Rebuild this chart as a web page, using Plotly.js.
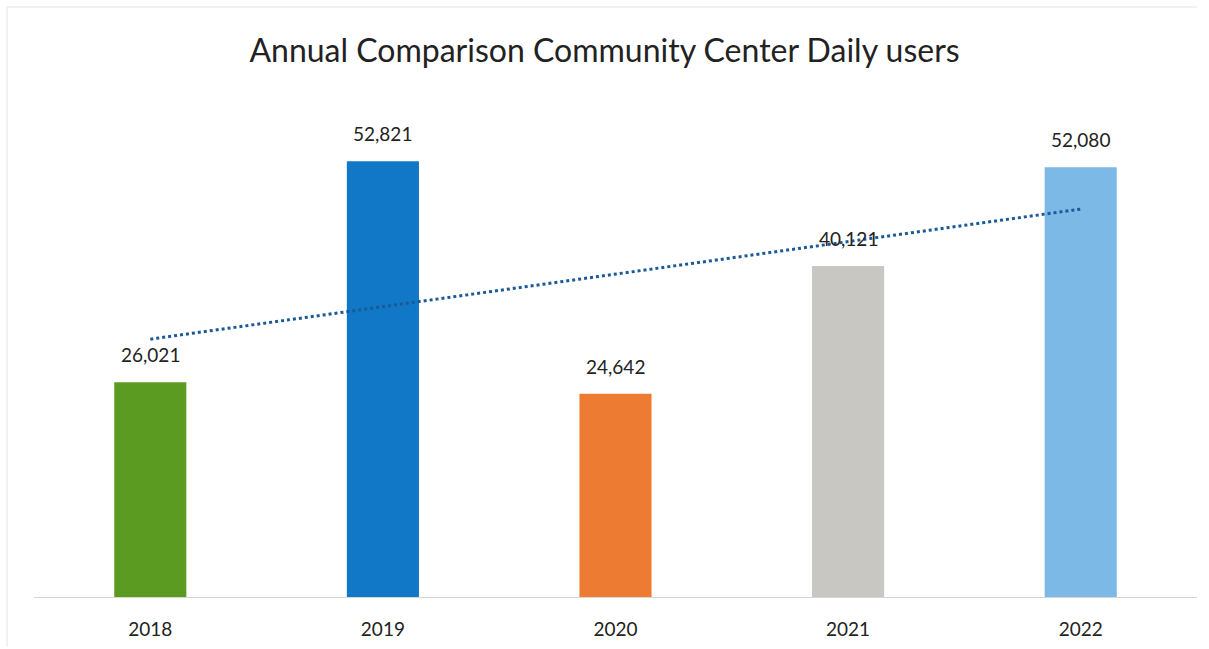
<!DOCTYPE html>
<html><head><meta charset="utf-8">
<script src="https://cdn.plot.ly/plotly-3.0.1.min.js"></script>
<style>html,body{margin:0;padding:0;background:#fff;overflow:hidden}#chart{width:1209px;height:649px}</style>
</head><body><div id="chart"></div>
<script>
const years = ['2018', '2019', '2020', '2021', '2022'];
const users = [26021, 52821, 24642, 40121, 52080];
const barColors = ['#5c9b22', '#1177c7', '#ee7b32', '#c9c7c1', '#7cb9e6'];

// linear trendline (least squares) from the data
const n = users.length;
const idx = users.map((_, i) => i + 1);
const mx = idx.reduce((a, b) => a + b, 0) / n;
const my = users.reduce((a, b) => a + b, 0) / n;
let sxy = 0, sxx = 0;
for (let i = 0; i < n; i++) { sxy += (idx[i] - mx) * (users[i] - my); sxx += (idx[i] - mx) ** 2; }
const slope = sxy / sxx, icpt = my - slope * mx;
const trend = idx.map(x => icpt + slope * x);

function fmt(v) { return String(v).replace(/\B(?=(\d{3})+(?!\d))/g, ','); }
const labels = users.map(fmt);

const font = 'Lato, "Open Sans", sans-serif';
const data = [
  {type: 'bar', x: years, y: users, marker: {color: barColors}, width: 0.31, hoverinfo: 'x+y'},
  {type: 'scatter', mode: 'lines', x: years, y: trend,
   line: {color: '#1b5a94', width: 3, dash: 'dot'}, hoverinfo: 'skip'}
];
const annotations = years.map((yr, i) => ({
  x: i, y: users[i], xref: 'x', yref: 'y', text: labels[i],
  showarrow: false, yanchor: 'bottom', yshift: 14, font: {family: font, size: 19, color: '#222'}
}));
const layout = {
  width: 1209, height: 649,
  margin: {l: 34, r: 12, t: 102, b: 52},
  paper_bgcolor: '#fff', plot_bgcolor: '#fff',
  showlegend: false,
  title: {text: 'Annual Comparison Community Center Daily users', x: 0.5, xanchor: 'center',
          y: 0.921, yanchor: 'middle', font: {family: font, size: 32, color: '#222'}},
  xaxis: {type: 'category', range: [-0.5, 4.5], showgrid: false, zeroline: false,
          showline: true, linecolor: '#d6d6d6', linewidth: 1, ticks: '', ticklabelstandoff: 15,
          tickfont: {family: font, size: 19, color: '#222'}},
  yaxis: {range: [0, 60000], visible: false, showgrid: false, zeroline: false},
  annotations: annotations,
  shapes: [
    {type: 'line', xref: 'paper', yref: 'paper', x0: -0.0232, x1: 1.0, y0: 1.192, y1: 1.192,
     line: {color: '#e4e4e4', width: 1}, layer: 'below'},
    {type: 'line', xref: 'paper', yref: 'paper', x0: -0.0232, x1: -0.0232, y0: 1.192, y1: -0.1,
     line: {color: '#e4e4e4', width: 1}, layer: 'below'}
  ]
};
Plotly.newPlot('chart', data, layout, {displayModeBar: false, staticPlot: true}).catch(e => {
  document.body.insertAdjacentHTML('beforeend', '<pre>' + e + '</pre>');
});
</script></body></html>
